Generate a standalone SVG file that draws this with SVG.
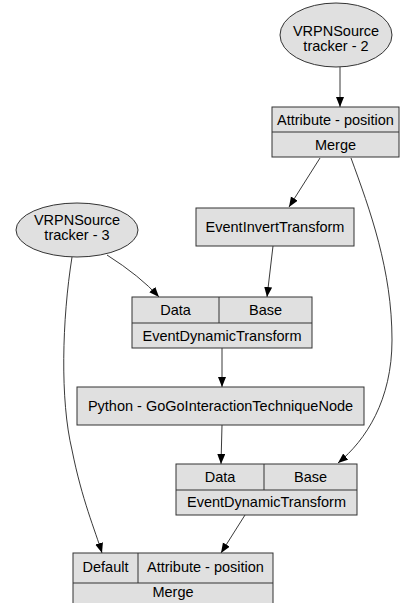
<svg xmlns="http://www.w3.org/2000/svg" width="401" height="603" viewBox="0 0 401 603">
  <style>
    .shape { fill: #e0e0e0; stroke: #333333; stroke-width: 1; }
    .line { fill: none; stroke: #333333; stroke-width: 1; }
    .edge { fill: none; stroke: #222222; stroke-width: 0.9; }
    text { font-family: "Liberation Sans", Arial, sans-serif; font-size: 14.5px; fill: #000000; text-anchor: middle; }
  </style>
  <defs>
    <marker id="arrow" markerUnits="userSpaceOnUse" markerWidth="11" markerHeight="9" refX="10" refY="4" orient="auto">
      <path d="M0,0 L10,4 L0,8 z" fill="#000000"/>
    </marker>
  </defs>

  <g id="edges">
    <path class="edge" d="M340,67 L340,107" marker-end="url(#arrow)"/>
    <path class="edge" d="M320,158 L289,207" marker-end="url(#arrow)"/>
    <path class="edge" d="M351,158 C370,210 392,270 392,340 C392,400 366,440 338,463" marker-end="url(#arrow)"/>
    <path class="edge" d="M273,246 L267,297" marker-end="url(#arrow)"/>
    <path class="edge" d="M107,255 Q140,276 159,297" marker-end="url(#arrow)"/>
    <path class="edge" d="M222,348 L222,387" marker-end="url(#arrow)"/>
    <path class="edge" d="M222,425 L221,464" marker-end="url(#arrow)"/>
    <path class="edge" d="M72,257 C62,320 60,400 72,450 C82,500 95,530 102,553" marker-end="url(#arrow)"/>
    <path class="edge" d="M245,515 L221,553" marker-end="url(#arrow)"/>
  </g>

  <g id="tracker2">
    <ellipse class="shape" cx="336" cy="35" rx="56" ry="32"/>
    <text x="336" y="36">VRPNSource</text>
    <text x="336" y="51">tracker - 2</text>
  </g>

  <g id="merge1">
    <rect class="shape" x="272" y="107" width="127" height="50"/>
    <line class="line" x1="272" y1="132" x2="399" y2="132"/>
    <text x="335.5" y="124.5">Attribute - position</text>
    <text x="335.5" y="149.5">Merge</text>
  </g>

  <g id="tracker3">
    <ellipse class="shape" cx="77" cy="230" rx="61" ry="27"/>
    <text x="77" y="225">VRPNSource</text>
    <text x="77" y="240">tracker - 3</text>
  </g>

  <g id="invert">
    <rect class="shape" x="196" y="208" width="158" height="38"/>
    <text x="275" y="232">EventInvertTransform</text>
  </g>

  <g id="dynamic1">
    <rect class="shape" x="132" y="297" width="180" height="51"/>
    <line class="line" x1="132" y1="323" x2="312" y2="323"/>
    <line class="line" x1="219" y1="297" x2="219" y2="323"/>
    <text x="175.5" y="315">Data</text>
    <text x="265.5" y="315">Base</text>
    <text x="222" y="341">EventDynamicTransform</text>
  </g>

  <g id="python">
    <rect class="shape" x="77" y="387" width="287" height="38"/>
    <text x="220.5" y="411">Python - GoGoInteractionTechniqueNode</text>
  </g>

  <g id="dynamic2">
    <rect class="shape" x="176" y="464" width="181" height="51"/>
    <line class="line" x1="176" y1="490" x2="357" y2="490"/>
    <line class="line" x1="264" y1="464" x2="264" y2="490"/>
    <text x="220" y="482">Data</text>
    <text x="310.5" y="482">Base</text>
    <text x="266.5" y="507">EventDynamicTransform</text>
  </g>

  <g id="merge2">
    <rect class="shape" x="73" y="553" width="200" height="55"/>
    <line class="line" x1="73" y1="583" x2="273" y2="583"/>
    <line class="line" x1="138" y1="553" x2="138" y2="583"/>
    <text x="105.5" y="572">Default</text>
    <text x="205.5" y="572">Attribute - position</text>
    <text x="173" y="597">Merge</text>
  </g>
</svg>
